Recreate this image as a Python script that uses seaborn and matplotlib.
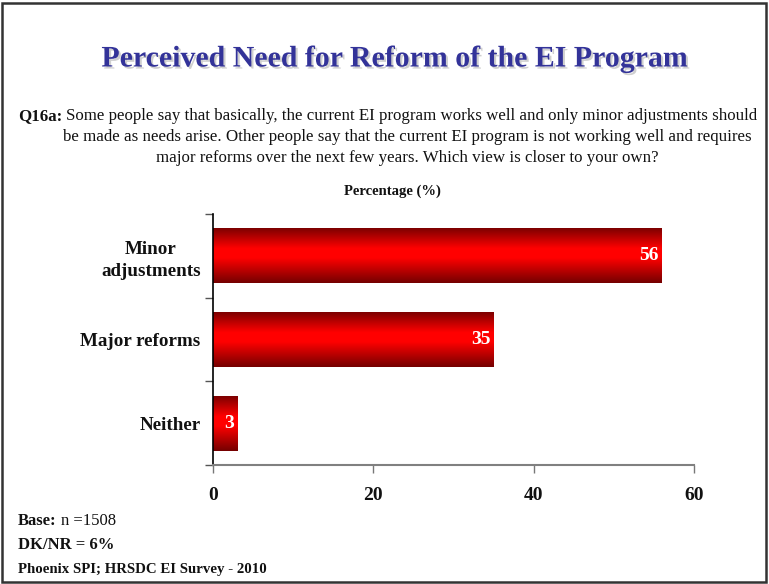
import numpy as np
import pandas as pd
import matplotlib
matplotlib.use("Agg")
import matplotlib.pyplot as plt
import matplotlib.patheffects as pe
from matplotlib.colors import LinearSegmentedColormap
from matplotlib.patches import Rectangle
import seaborn as sns

categories = ["Minor\nadjustments", "Major reforms", "Neither"]
values = [56, 35, 3]
xticks = [0, 20, 40, 60]

sns.set_theme(style="white")
plt.rcParams["font.family"] = ["Liberation Serif", "DejaVu Serif"]

df = pd.DataFrame({"category": categories, "value": values})

W, H = 769, 584
fig = plt.figure(figsize=(W / 100, H / 100), dpi=100)
ax = fig.add_axes([213 / W, 1 - 465 / H, (694 - 213) / W, (465 - 214) / H])

sns.barplot(data=df, x="value", y="category", ax=ax, width=0.66,
            color="red", orient="h")

# vertical red gradient for each bar, clipped to the bar shape
grad_cmap = LinearSegmentedColormap.from_list(
    "bar_red", [(0.0, "#760000"), (0.38, "#ff0000"), (0.55, "#ff0000"), (1.0, "#740000")])
grad = np.linspace(0, 1, 256).reshape(-1, 1)
for patch in ax.patches:
    x0, y0 = patch.get_x(), patch.get_y()
    w, h = patch.get_width(), patch.get_height()
    patch.set_facecolor("none")
    patch.set_edgecolor("none")
    im = ax.imshow(grad, cmap=grad_cmap, aspect="auto",
                   extent=[x0 - 0.15, x0 + w, y0 + h, y0], zorder=2,
                   interpolation="bilinear")
    im.set_clip_path(patch)

ax.set_xlim(0, 60)
ax.set_ylim(2.5, -0.5)

for i, v in enumerate(values):
    ax.text(v - 0.35, i, str(v), ha="right", va="center", color="white",
            fontsize=14, fontweight="bold", zorder=3)

ax.set_xticks(xticks)
ax.set_xticklabels([str(t) for t in xticks], fontsize=14, fontweight="bold")
ax.set_yticks(range(len(categories)))
ax.set_yticklabels(categories, fontsize=13.7, fontweight="bold",
                   multialignment="center", linespacing=1.4)
ax.set_yticks([-0.5, 0.5, 1.5, 2.5], minor=True)
ax.tick_params(axis="y", which="major", length=0, pad=9, labelcolor="#111111")
ax.tick_params(axis="y", which="minor", length=6, width=1, color="#555555", left=True)
ax.tick_params(axis="x", length=6, width=1, color="#777777", pad=10, bottom=True,
               labelcolor="#111111")
ax.set_xlabel("")
ax.set_ylabel("")

for s in ["top", "right"]:
    ax.spines[s].set_visible(False)
ax.spines["left"].set_color("black")
ax.spines["left"].set_linewidth(1.2)
ax.spines["bottom"].set_color("#808080")
ax.spines["bottom"].set_linewidth(1.5)

# slide title with a soft drop shadow
fig.text(395 / W, 1 - 59 / H, "Perceived Need for Reform of the EI Program",
         ha="center", va="center", fontsize=21.5, fontweight="bold", color="#333399",
         path_effects=[pe.SimplePatchShadow(offset=(1.5, -1.5), shadow_rgbFace="#bbbbbb", alpha=0.7),
                       pe.Normal()])

# question text: bold label followed by the question on the same line
renderer = fig.canvas.get_renderer()
q_size = 12.2
q_label = fig.text(18 / W, 1 - 116 / H, "Q16a:", ha="left", va="center",
                   fontsize=q_size, fontweight="bold", color="#111111")
lbl_w = q_label.get_window_extent(renderer).width
fig.text((18 + lbl_w + 4) / W, 1 - 116 / H,
         "Some people say that basically, the current EI program works well and only minor adjustments should",
         ha="left", va="center", fontsize=q_size, color="#111111")
fig.text(407 / W, 1 - 137 / H,
         "be made as needs arise. Other people say that the current EI program is not working well and requires",
         ha="center", va="center", fontsize=q_size, color="#111111")
fig.text(407 / W, 1 - 158 / H,
         "major reforms over the next few years. Which view is closer to your own?",
         ha="center", va="center", fontsize=q_size, color="#111111")

fig.text(392 / W, 1 - 191 / H, "Percentage (%)", ha="center", va="center",
         fontsize=10.5, fontweight="bold", color="#111111")

# footer notes
base_lbl = fig.text(18 / W, 1 - 521 / H, "Base:", ha="left", va="center", fontsize=12,
                    fontweight="bold", color="#111111")
base_w = base_lbl.get_window_extent(renderer).width
fig.text((18 + base_w + 4) / W, 1 - 521 / H, "n =1508", ha="left", va="center",
         fontsize=12, color="#111111")
fig.text(18 / W, 1 - 545 / H, "DK/NR = 6%", ha="left", va="center", fontsize=12,
         fontweight="bold", color="#111111")
fig.text(18 / W, 1 - 570 / H, "Phoenix SPI; HRSDC EI Survey - 2010", ha="left",
         va="center", fontsize=10.7, fontweight="bold", color="#111111")

# slide border
fig.patches.append(Rectangle((1.5 / W, 2.5 / H), 764 / W, 579 / H,
                             transform=fig.transFigure, fill=False,
                             edgecolor="#333333", linewidth=1.8))

fig.savefig("out.png", dpi=100)
